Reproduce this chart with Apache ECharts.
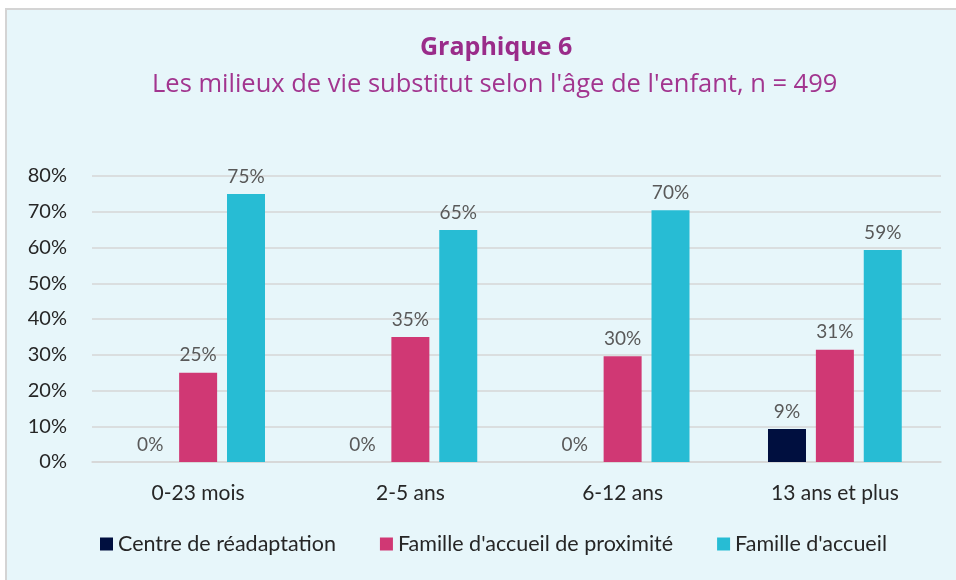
<!DOCTYPE html>
<html>
<head>
<meta charset="utf-8">
<script src="https://cdn.jsdelivr.net/npm/echarts@6/dist/echarts.min.js"></script>
<style>
html,body{margin:0;padding:0;background:#fff;}
#c{width:956px;height:580px;}
</style>
</head>
<body>
<div id="c"></div>
<script>
const categories = ['0-23 mois', '2-5 ans', '6-12 ans', '13 ans et plus'];
const seriesNames = ['Centre de réadaptation', "Famille d'accueil de proximité", "Famille d'accueil"];
const centreReadaptation = [0, 0, 0, 9.2];
const familleProximite = [25, 35, 29.6, 31.4];
const familleAccueil = [75, 64.9, 70.4, 59.3];
const yTicks = [0, 10, 20, 30, 40, 50, 60, 70, 80];
const titleText = 'Graphique 6';
const subtitleText = "Les milieux de vie substitut selon l'âge de l'enfant, n = 499";

const colors = ['#000f3f', '#d03874', '#27bcd4'];
const font = 'Lato';
const titleFont = 'Open Sans';
const chart = echarts.init(document.getElementById('c'));

const allValues = [centreReadaptation, familleProximite, familleAccueil];
chart.setOption({
  backgroundColor: '#ffffff',
  animation: false,
  graphic: [{
    type: 'rect', z: -10, silent: true,
    shape: { x: 6, y: 9, width: 960, height: 580 },
    style: { fill: '#e7f6fa', stroke: '#d4d4d4', lineWidth: 2 }
  }],
  title: [{
    text: titleText, left: 415, top: 30,
    textStyle: { fontFamily: titleFont, fontSize: 25, fontWeight: 'bold', color: '#9a2c8a' }
  }, {
    text: subtitleText, left: 147, top: 67,
    textStyle: { fontFamily: titleFont, fontSize: 25.5, fontWeight: 'normal', color: '#a2358f' }
  }],
  legend: {
    bottom: 20, left: 95, itemWidth: 13, itemHeight: 13, itemGap: 44,
    icon: 'rect',
    textStyle: { fontFamily: font, fontSize: 21.5, color: '#262626' },
    data: seriesNames
  },
  grid: { left: 92, right: 15, top: 176, bottom: 118 },
  xAxis: {
    type: 'category', data: categories,
    axisLine: { show: true, lineStyle: { color: '#d6d6d6', width: 1.5 } },
    axisTick: { show: false },
    axisLabel: { fontFamily: font, fontSize: 21, color: '#262626', margin: 21 }
  },
  yAxis: {
    type: 'value', min: 0, max: 80, interval: 10,
    axisLine: { show: false }, axisTick: { show: false },
    splitLine: { lineStyle: { color: '#d6d6d6', width: 1.5 } },
    axisLabel: { fontFamily: font, fontSize: 20, color: '#262626', margin: 25,
      formatter: v => yTicks.includes(v) ? v + '%' : '' }
  },
  series: seriesNames.map((name, i) => ({
    name, type: 'bar', data: allValues[i],
    barWidth: 38, barGap: '26%',
    itemStyle: { color: colors[i] },
    label: { show: true, position: 'top', distance: 8,
      fontFamily: font, fontSize: 19, color: '#595959',
      formatter: p => Math.round(p.value) + '%' }
  }))
});
</script>
</body>
</html>
